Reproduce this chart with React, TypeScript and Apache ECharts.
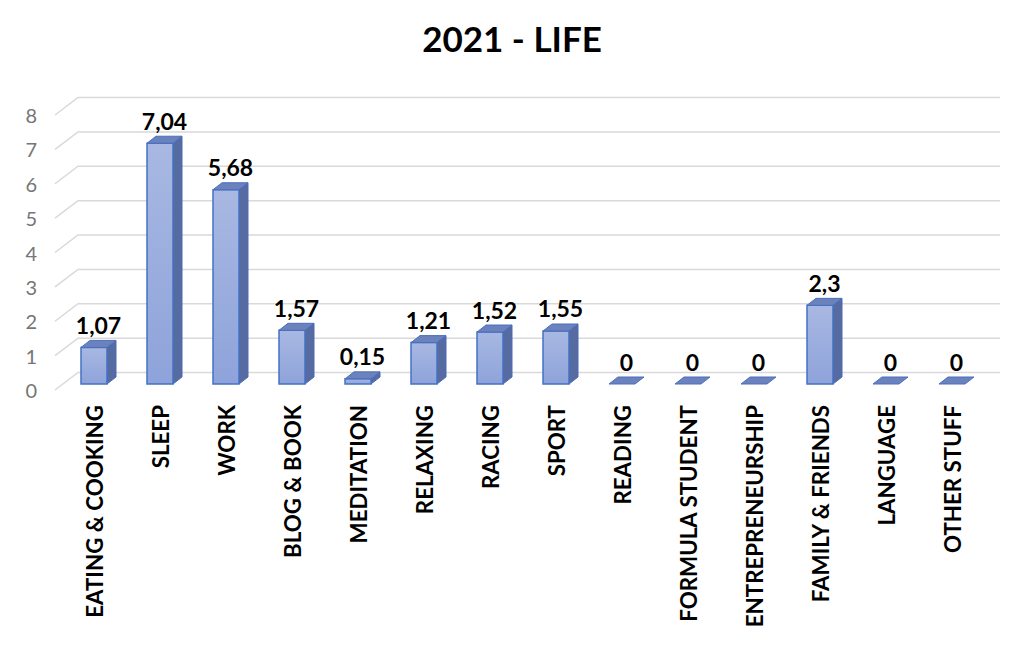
import React, { useEffect, useRef } from "react";
import * as echarts from "echarts";

const categories = [
  "EATING & COOKING",
  "SLEEP",
  "WORK",
  "BLOG & BOOK",
  "MEDITATION",
  "RELAXING",
  "RACING",
  "SPORT",
  "READING",
  "FORMULA STUDENT",
  "ENTREPRENEURSHIP",
  "FAMILY & FRIENDS",
  "LANGUAGE",
  "OTHER STUFF",
];
const hours = [1.07, 7.04, 5.68, 1.57, 0.15, 1.21, 1.52, 1.55, 0, 0, 0, 2.3, 0, 0];
const yTicks = [0, 1, 2, 3, 4, 5, 6, 7, 8];
const titleText = "2021 - LIFE";

const FONT = "Lato";
const DEPTH_X = 9;
const DEPTH_Y = -7;
const FACE_W = 26;
const WALL_DX = 23;
const WALL_DY = -17.5;

export default function App() {
  const ref = useRef<HTMLDivElement>(null);
  useEffect(() => {
    if (!ref.current) return;
    const chart = echarts.init(ref.current, undefined, { renderer: "svg" });
    const option: any = {
      animation: false,
      backgroundColor: "#ffffff",
      title: {
        text: titleText,
        left: "center",
        top: 15,
        textStyle: { fontFamily: FONT, fontWeight: "bold", fontSize: 35, color: "#000" },
      },
      grid: [
        { left: 55, top: 115, width: 945, height: 275 },
        { left: 61, top: 110.4, width: 924, height: 273.6 },
      ],
      xAxis: [
        { gridIndex: 0, type: "value", min: 0, max: 1, show: false },
        {
          gridIndex: 1,
          type: "category",
          data: categories,
          axisLine: { show: false },
          axisTick: { show: false },
          axisLabel: {
            rotate: 90,
            interval: 0,
            margin: 21,
            fontFamily: FONT,
            fontWeight: "bold",
            fontSize: 22.3,
            color: "#000",
          },
        },
      ],
      yAxis: [
        {
          gridIndex: 0,
          type: "value",
          min: 0,
          max: 8,
          interval: 1,
          axisLine: { show: false },
          axisTick: { show: false },
          splitLine: { show: false },
          axisLabel: { margin: 18, fontFamily: FONT, fontSize: 20, color: "#767676" },
        },
        {
          gridIndex: 1,
          type: "value",
          min: 0,
          max: 8,
          interval: 1,
          show: false,
        },
      ],
      series: [
        {
          type: "custom",
          xAxisIndex: 0,
          yAxisIndex: 0,
          data: yTicks.map((v) => [0, v]),
          silent: true,
          renderItem: (params: any, api: any) => {
            const v = api.value(1);
            const p0 = api.coord([0, v]);
            const p1 = api.coord([1, v]);
            return {
              type: "polyline",
              shape: {
                points: [
                  [p0[0], p0[1]],
                  [p0[0] + WALL_DX, p0[1] + WALL_DY],
                  [p1[0], p0[1] + WALL_DY],
                ],
              },
              style: { stroke: "#d9d9d9", lineWidth: 1.5, fill: "none" },
              z2: 0,
            };
          },
        },
        {
          type: "custom",
          xAxisIndex: 1,
          yAxisIndex: 1,
          data: hours.map((v, i) => [i, v]),
          renderItem: (params: any, api: any) => {
            const i = api.value(0);
            const v = api.value(1);
            const base = api.coord([i, 0]);
            const top = api.coord([i, v]);
            const x0 = base[0] - FACE_W / 2;
            const x1 = base[0] + FACE_W / 2;
            const yb = base[1];
            const yt = top[1];
            const children: any[] = [];
            if (yb - yt > 0.5) {
              children.push({
                type: "polygon",
                shape: {
                  points: [
                    [x1, yb],
                    [x1 + DEPTH_X, yb + DEPTH_Y],
                    [x1 + DEPTH_X, yt + DEPTH_Y],
                    [x1, yt],
                  ],
                },
                style: { fill: "#566b9f", stroke: "#4a6bbd", lineWidth: 1 },
              });
              children.push({
                type: "rect",
                shape: { x: x0, y: yt, width: FACE_W, height: yb - yt },
                style: {
                  fill: new echarts.graphic.LinearGradient(0, 0, 0, 1, [
                    { offset: 0, color: "#a8b8e2" },
                    { offset: 1, color: "#8ea3da" },
                  ]),
                  stroke: "#4472c4",
                  lineWidth: 1.5,
                },
              });
            }
            children.push({
              type: "polygon",
              shape: {
                points: [
                  [x0, yt],
                  [x1, yt],
                  [x1 + DEPTH_X, yt + DEPTH_Y],
                  [x0 + DEPTH_X, yt + DEPTH_Y],
                ],
              },
              style: { fill: "#6b82bd", stroke: "#4a6fc0", lineWidth: 1 },
            });
            children.push({
              type: "text",
              style: {
                text: String(v).replace(".", ","),
                x: base[0] + DEPTH_X / 2,
                y: yt + DEPTH_Y - 4,
                align: "center",
                verticalAlign: "bottom",
                fontFamily: FONT,
                fontWeight: "bold",
                fontSize: 23,
                fill: "#000",
              },
            });
            return { type: "group", children };
          },
        },
      ],
    };
    chart.setOption(option);
    return () => chart.dispose();
  }, []);
  return (
    <div
      ref={ref}
      style={{ position: "fixed", left: 0, top: 0, width: 1024, height: 648 }}
    />
  );
}
